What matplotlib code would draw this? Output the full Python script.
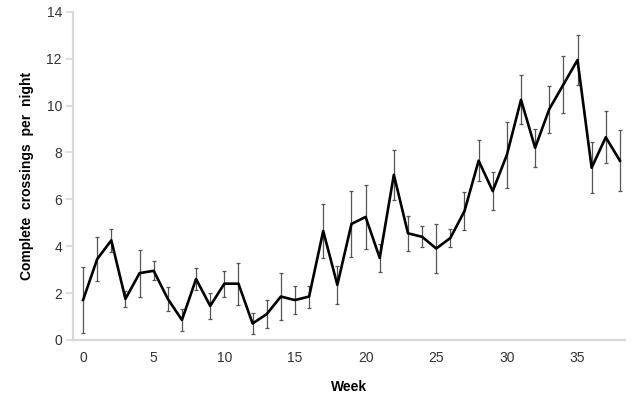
import matplotlib
matplotlib.use("Agg")
import matplotlib.pyplot as plt

plt.rcParams['font.family'] = ['Liberation Sans', 'DejaVu Sans']

# mean complete crossings per night, by week
weeks = list(range(39))
crossings = [1.7, 3.45, 4.25, 1.75, 2.85, 2.95, 1.75, 0.85, 2.6, 1.45,
             2.4, 2.4, 0.7, 1.1, 1.85, 1.7, 1.85, 4.65, 2.35, 4.95,
             5.25, 3.5, 7.05, 4.55, 4.4, 3.9, 4.35, 5.5, 7.65, 6.35,
             7.9, 10.25, 8.2, 9.85, 10.9, 11.95, 7.35, 8.65, 7.65]
errors = [1.4, 0.95, 0.5, 0.35, 1.0, 0.4, 0.5, 0.45, 0.45, 0.55,
          0.55, 0.9, 0.45, 0.6, 1.0, 0.6, 0.47, 1.15, 0.8, 1.4,
          1.37, 0.6, 1.07, 0.75, 0.45, 1.05, 0.4, 0.8, 0.87, 0.8,
          1.4, 1.05, 0.8, 1.0, 1.2, 1.05, 1.1, 1.1, 1.3]

fig = plt.figure(figsize=(6.35, 3.98), dpi=100)
ax = fig.add_axes([0.115, 0.146, 0.869, 0.824])

ax.errorbar(weeks, crossings, yerr=errors, fmt='none',
            ecolor='#555555', elinewidth=0.9, capsize=1.6, capthick=0.9)
ax.plot(weeks, crossings, color='black', linewidth=1.9)

ax.set_xlim(-0.71, 38.35)
ax.set_ylim(0, 14)
ax.set_xticks(range(0, 36, 5))
ax.set_yticks(range(0, 15, 2))

for side in ['top', 'right']:
    ax.spines[side].set_visible(False)
for side in ['left', 'bottom']:
    ax.spines[side].set_color('#d8d8d8')
    ax.spines[side].set_linewidth(1.6)

ax.tick_params(axis='y', length=5, width=1.2, color='#d8d8d8',
               labelsize=10, labelcolor='#333333', pad=3)
ax.tick_params(axis='x', length=0, labelsize=10, labelcolor='#333333', pad=8)

ax.set_xlabel('Week', fontsize=10, fontweight='bold', labelpad=11)
ax.set_ylabel('Complete  crossings  per  night', fontsize=10,
              fontweight='bold', labelpad=9)

fig.savefig('out.png', dpi=100)
